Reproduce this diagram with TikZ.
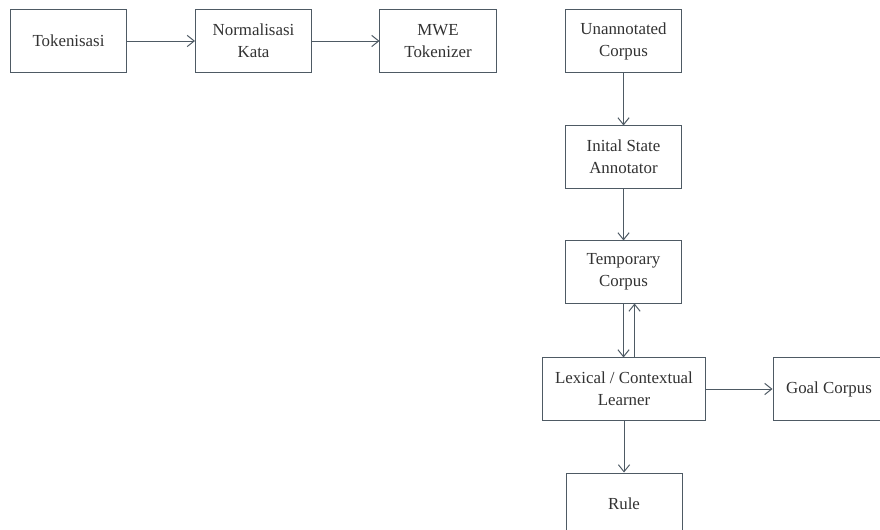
\documentclass[tikz,border=0pt]{standalone}
\usepackage{fontspec}
\setmainfont{Liberation Serif}
\usetikzlibrary{arrows.meta}
\definecolor{lineGray}{RGB}{78,90,100}
\definecolor{textGray}{RGB}{50,50,50}

\begin{document}
\begin{tikzpicture}[x = 0.025cm, y = -0.025cm, font=\fontsize{12}{15.6}\selectfont]
\tikzstyle{boxStyle}=[draw = lineGray, line width = 0.7pt, text = textGray, align = center, minimum width = 2.9cm, minimum height = 1.55cm, inner sep = 1pt]
\tikzstyle{wideStyle}=[boxStyle, minimum width = 4.05cm]
\tikzstyle{goalStyle}=[boxStyle, minimum width = 2.8cm]
\tikzstyle{arrowStyle}=[draw = lineGray, line width = 0.7pt, -{Straight Barb[length = 5pt, width = 8pt]}]
\useasboundingbox (0,0) rectangle (880,530);
\clip (0,0) rectangle (880,530);
\node[boxStyle] (tok) at (68.5, 41) {Tokenisasi};
\node[boxStyle] (norm) at (253.5, 41) {Normalisasi\\Kata};
\node[boxStyle] (mwe) at (438, 41) {MWE\\Tokenizer};
\node[boxStyle] (unann) at (623.5, 41) {Unannotated\\Corpus};
\node[boxStyle] (init) at (623.5, 157) {Inital State\\Annotator};
\node[boxStyle] (temp) at (623.5, 272) {Temporary\\Corpus};
\node[wideStyle] (lex) at (624, 389) {Lexical / Contextual\\Learner};
\node[goalStyle] (goal) at (829, 389) {Goal Corpus};
\node[boxStyle] (rule) at (624, 504) {Rule};
\draw[arrowStyle] (tok) -- (norm);
\draw[arrowStyle] (norm) -- (mwe);
\draw[arrowStyle] (unann) -- (init);
\draw[arrowStyle] (init) -- (temp);
\draw[arrowStyle] (temp.south) -- (temp.south |- lex.north);
\draw[arrowStyle] ([xshift = 0.275cm]temp.south |- lex.north) -- ([xshift = 0.275cm]temp.south);
\draw[arrowStyle] (lex) -- (goal);
\draw[arrowStyle] (lex) -- (rule);
\end{tikzpicture}
\end{document}
